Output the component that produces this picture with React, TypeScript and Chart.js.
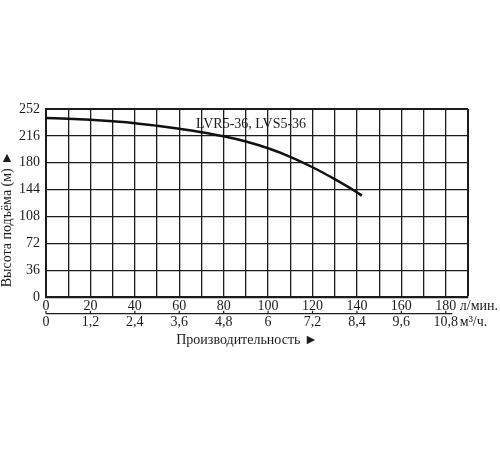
import { useEffect, useRef } from "react";
import { Chart, ChartConfiguration, registerables } from "chart.js";

Chart.register(...registerables);

// flow in l/min and head in m
const flowLpm = [0, 10, 20, 30, 40, 50, 60, 70, 80, 90, 100, 110, 120, 130, 140, 142.2];
const headM = [240, 239, 237.5, 235.5, 233, 229.5, 225.5, 221, 215.5, 208.5, 199.5, 188, 174, 158, 140.5, 136];

const seriesLabel = "LVR5-36, LVS5-36";
const yTitle = "Высота подъёма (м) ►";
const xTitle = "Производительность ►";
const lpmUnit = "л/мин.";
const m3hUnit = "м³/ч.";

const FONT = "'Liberation Serif', 'Times New Roman', serif";
const INK = "#1c1c1c";

export default function PumpCurveChart() {
  const chartRef = useRef<HTMLCanvasElement>(null);
  const chartInstance = useRef<Chart | null>(null);

  useEffect(() => {
    if (!chartRef.current) return;
    document.body.style.margin = "0";

    if (chartInstance.current) {
      chartInstance.current.destroy();
    }

    const ctx = chartRef.current.getContext("2d");
    if (!ctx) return;

    // titles, units, label and the line between the two x rows
    const decorPlugin = {
      id: "decor",
      afterDraw(chart: Chart) {
        const c = chart.ctx;
        const x = chart.scales.x;
        const x2 = chart.scales.x2;
        const y = chart.scales.y;
        const area = chart.chartArea;
        c.save();
        c.fillStyle = INK;
        c.strokeStyle = INK;
        c.font = `14px ${FONT}`;

        // separator with small ticks
        const ly = x2.top + 0.5;
        c.lineWidth = 1.2;
        c.beginPath();
        c.moveTo(x.getPixelForValue(0), ly);
        c.lineTo(x.getPixelForValue(183), ly);
        for (let v = 0; v <= 180; v += 20) {
          const px = x.getPixelForValue(v);
          c.moveTo(px, ly);
          c.lineTo(px, ly - 3);
        }
        c.stroke();

        // units after the last labels
        c.textAlign = "left";
        c.textBaseline = "middle";
        c.fillText(lpmUnit, x.getPixelForValue(180) + 14, x.top + 9.5);
        c.fillText(m3hUnit, x.getPixelForValue(180) + 14, x2.top + 9.5);

        // series label
        c.fillText(seriesLabel, x.getPixelForValue(67.5), y.getPixelForValue(232));

        // x title
        c.textAlign = "center";
        c.fillText(xTitle, (area.left + area.right) / 2 - 10, area.bottom + 43);

        // y title (rotated)
        c.translate(7, (area.top + area.bottom) / 2 + 16);
        c.rotate(-Math.PI / 2);
        c.fillText(yTitle, 0, 0);
        c.restore();
      },
    };

    const config: ChartConfiguration = {
      type: "scatter",
      data: {
        datasets: [
          {
            label: seriesLabel,
            data: flowLpm.map((f, i) => ({ x: f, y: headM[i] })),
            showLine: true,
            borderColor: "#111",
            borderWidth: 2.5,
            pointRadius: 0,
            tension: 0.4,
            xAxisID: "x",
            yAxisID: "y",
          },
        ],
      },
      options: {
        responsive: true,
        maintainAspectRatio: false,
        animation: false,
        layout: {
          padding: { left: 19, right: 32, top: 109, bottom: 118 },
        },
        plugins: {
          legend: { display: false },
          tooltip: { enabled: false },
        },
        scales: {
          x: {
            type: "linear",
            position: "bottom",
            weight: 0,
            min: 0,
            max: 190,
            afterFit: (s: any) => {
              s.height = 16;
            },
            grid: {
              color: INK,
              lineWidth: (c: any) => (c.tick && c.tick.value === 190 ? 2 : 1.3),
              drawTicks: false,
            },
            border: { color: INK, width: 2 },
            ticks: {
              stepSize: 10,
              autoSkip: false,
              maxRotation: 0,
              padding: 1,
              color: INK,
              font: { family: FONT, size: 14 },
              callback: (v: any) => (v % 20 === 0 && v <= 180 ? String(v) : ""),
            },
          },
          x2: {
            type: "linear",
            position: "bottom",
            weight: 1,
            min: 0,
            max: 11.4,
            grid: { display: false, drawTicks: false },
            border: { display: false },
            ticks: {
              stepSize: 1.2,
              includeBounds: false,
              autoSkip: false,
              maxRotation: 0,
              padding: 1,
              color: INK,
              font: { family: FONT, size: 14 },
              callback: (v: any) => {
                const n = Number(Number(v).toFixed(1));
                return n > 10.8 ? "" : String(n).replace(".", ",");
              },
            },
          },
          y: {
            type: "linear",
            min: 0,
            max: 252,
            afterFit: (s: any) => {
              s.width = 27;
            },
            grid: {
              color: INK,
              lineWidth: (c: any) => (c.tick && c.tick.value === 252 ? 2 : 1.3),
              drawTicks: false,
            },
            border: { color: INK, width: 2 },
            ticks: {
              stepSize: 36,
              padding: 6,
              color: INK,
              font: { family: FONT, size: 14 },
            },
          },
        },
      },
      plugins: [decorPlugin],
    };

    chartInstance.current = new Chart(ctx, config);

    return () => {
      if (chartInstance.current) {
        chartInstance.current.destroy();
        chartInstance.current = null;
      }
    };
  }, []);

  return (
    <div style={{ position: "relative", width: 500, height: 450 }}>
      <canvas ref={chartRef}></canvas>
    </div>
  );
}
